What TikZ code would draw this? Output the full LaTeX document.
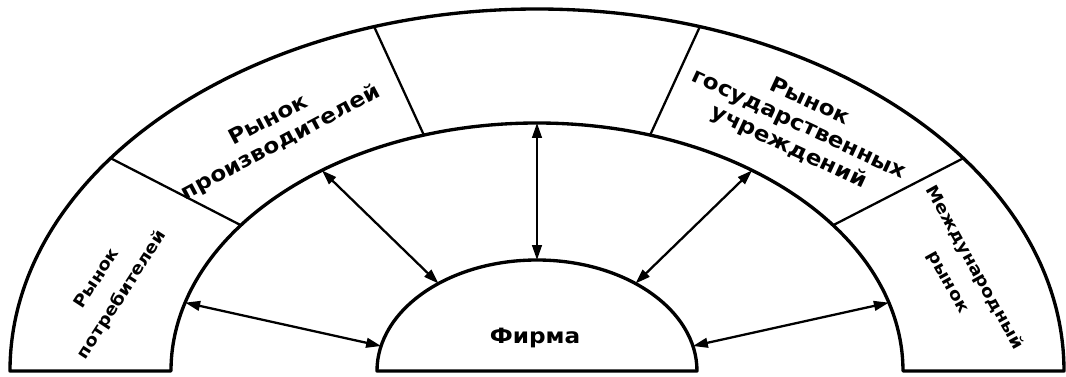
\documentclass[tikz,border=0pt]{standalone}
\usepackage{fontspec}
\newfontfamily\lblfont{DejaVu Sans}[FakeStretch=1.1]
\usetikzlibrary{arrows.meta}

\begin{document}
\begin{tikzpicture}[
  x=0.02cm, y=0.02cm,
  ring/.style={draw, line width=1.9pt, line join=round},
  sep/.style={draw, line width=1.3pt},
  arr/.style={{Triangle[length=8.5pt,width=5.5pt]}-{Triangle[length=8.5pt,width=5.5pt]}, line width=1.3pt},
  lbl/.style={font=\lblfont\bfseries\fontsize{12}{14.3}\selectfont, align=center, inner sep=0pt},
  side/.style={lbl, font=\lblfont\bfseries\fontsize{9.5}{17}\selectfont}
]
\useasboundingbox (-537,-5) rectangle (529,371);

\draw[ring] (-527,0) arc[start angle=180, end angle=0, x radius=527, y radius=362]
  -- (366,0) arc[start angle=0, end angle=180, x radius=366, y radius=248] -- cycle;
\draw[ring] (-160,0) arc[start angle=180, end angle=0, x radius=160, y radius=111] -- cycle;

\foreach \a in {36,72,108,144}
  \draw[sep] ({366*cos(\a)},{248*sin(\a)}) -- ({527*cos(\a)},{362*sin(\a)});

\foreach \i/\f/\r in {1/13/16, 2/52/54, 3/90/90, 4/128/126, 5/167/164} {
  \coordinate (f\i) at ({160*cos(\f)},{111*sin(\f)});
  \coordinate (r\i) at ({366*cos(\r)},{248*sin(\r)});
  \draw[arr] (f\i) -- (r\i);
}

\node[lbl] (firm) at (-2,33) {Фирма};
\node[side, rotate=57] (cons) at (-427,84) {Рынок\\потребителей};
\node[lbl, rotate=28] (prod) at (-262,239) {Рынок\\производителей};
\node[lbl, rotate=-25] (gov) at (262,246) {Рынок\\государственных\\учреждений};
\node[side, rotate=-61] (intl) at (424,96) {Международный\\рынок};
\end{tikzpicture}
\end{document}
